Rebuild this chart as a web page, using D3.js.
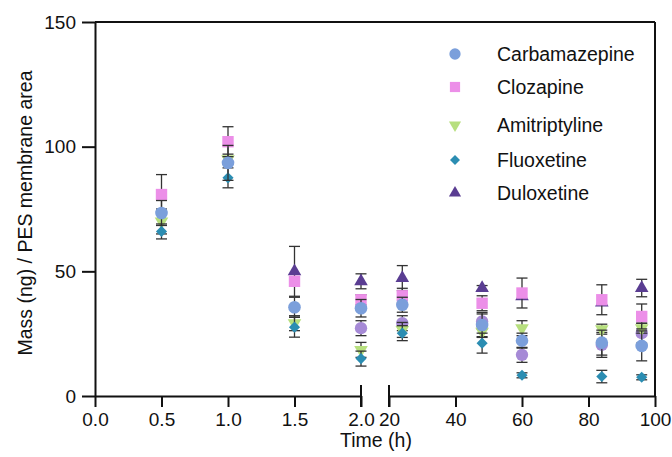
<!DOCTYPE html>
<html>
<head>
<meta charset="utf-8">
<script src="https://cdn.jsdelivr.net/npm/d3@7"></script>
<style>
  body { margin: 0; background: #fff; }
  svg { display: block; font-family: "Liberation Sans", Arial, sans-serif; }
</style>
</head>
<body>
<svg class="displayContext" width="672" height="457"></svg>
<script>
// sampling times (h)
var times = [0.5, 1.0, 1.5, 2.0, 24, 48, 60, 84, 96];

// mean mass (ng) per PES membrane area, null = not shown
var carbamazepine = [73.4, 93.5, 35.6, 35.2, 36.6, 28.5, 22.2, 21.4, 20.1];
var clozapine     = [80.8, 102, 46, 38.6, 40.2, 37.2, 41.3, 38.6, 31.9];
var amitriptyline = [70, 95, 29.2, 18.5, 26.5, 25.8, 27.2, 26.8, 27.2];
var fluoxetine    = [66, 87.5, 27.6, 15, 25.2, 21.2, 8.3, 7.8, 7.5];
var duloxetine    = [null, null, 50, 46, 47.3, 43.3, 40, 37.5, 43.3];
var otherSeries   = [null, null, null, 27.2, 29.2, 29.9, 16.5, 20.5, 25.2];

// standard deviations
var carbamazepineSD = [5, 7, 4, 3.5, 3, 5, 3, 5, 6];
var clozapineSD     = [8, 6, 1.5, 2, 3, 3, 6, 6, 5];
var amitriptylineSD = [5, 2, 3, 3, 3, 2, 3, 2, 2];
var fluoxetineSD    = [3, 4, 4, 3, 3, 4, 1, 2.5, 1];
var duloxetineSD    = [0, 0, 10, 3, 5, 1, 0, 0, 3.5];
var otherSD         = [0, 0, 0, 3, 3, 3, 3, 5, 4];

var leftTicks  = [0, 0.5, 1.0, 1.5, 2.0];
var rightTicks = [20, 40, 60, 80, 100];
var yTicks     = [0, 50, 100, 150];

var svg = d3.select(".displayContext");

var xLeft  = d3.scaleLinear().domain([0, 2]).range([95, 361]);
var xRight = d3.scaleLinear().domain([20, 100]).range([389, 655]);
var yScale = d3.scaleLinear().domain([0, 150]).range([396, 22]);

function xPos(t) { return t <= 2 ? xLeft(t) : xRight(t); }

var series = [
  { name: null,            values: otherSeries,   sd: otherSD,         colour: "#a68ad6", shape: d3.symbolCircle,   size: 120 },
  { name: "Duloxetine",    values: duloxetine,    sd: duloxetineSD,    colour: "#5a3d92", shape: d3.symbolTriangle, size: 80 },
  { name: "Amitriptyline", values: amitriptyline, sd: amitriptylineSD, colour: "#b7df7e", shape: "down",           size: 80 },
  { name: "Fluoxetine",    values: fluoxetine,    sd: fluoxetineSD,    colour: "#2b8db2", shape: "diamond",        size: 62 },
  { name: "Clozapine",     values: clozapine,     sd: clozapineSD,     colour: "#ec8fe8", shape: d3.symbolSquare,   size: 130 },
  { name: "Carbamazepine", values: carbamazepine, sd: carbamazepineSD, colour: "#7b9fdb", shape: d3.symbolCircle,   size: 125 }
];

function symbolPath(s, size) {
  if (s === "down") return d3.symbol(d3.symbolTriangle, size)();
  if (s === "diamond") return d3.symbol(d3.symbolSquare, size)();
  return d3.symbol(s, size)();
}
function symbolRotate(s) {
  if (s === "down") return " rotate(180)";
  if (s === "diamond") return " rotate(45)";
  return "";
}

// error bars + markers, one series at a time
series.forEach(function(s) {
  var pts = times.map(function(t, i) {
    return { t: t, v: s.values[i], sd: s.sd[i] };
  }).filter(function(d) { return d.v !== null; });

  var g = svg.append("g");
  pts.filter(function(d) { return d.sd > 0; }).forEach(function(d) {
    var cx = xPos(d.t);
    var top = yScale(d.v + d.sd), bot = yScale(d.v - d.sd);
    g.append("line").attr("x1", cx).attr("x2", cx).attr("y1", top).attr("y2", bot)
      .attr("stroke", "#333").attr("stroke-width", 1.3);
    [top, bot].forEach(function(yy) {
      g.append("line").attr("x1", cx - 5.5).attr("x2", cx + 5.5).attr("y1", yy).attr("y2", yy)
        .attr("stroke", "#333").attr("stroke-width", 1.3);
    });
  });

  g.selectAll("path.pt").data(pts).enter().append("path")
    .attr("class", "pt")
    .attr("d", symbolPath(s.shape, s.size))
    .attr("transform", function(d) {
      return "translate(" + xPos(d.t) + "," + yScale(d.v) + ")" + symbolRotate(s.shape);
    })
    .attr("fill", s.colour);
});

// axes
var axisLeftSeg = d3.axisBottom(xLeft).tickValues(leftTicks).tickFormat(d3.format(".1f")).tickSize(11).tickSizeOuter(0);
var axisRightSeg = d3.axisBottom(xRight).tickValues(rightTicks).tickFormat(d3.format("d")).tickSize(11).tickSizeOuter(0);
var axisY = d3.axisLeft(yScale).tickValues(yTicks).tickSize(13).tickSizeOuter(0);

function styleAxis(g) {
  g.select(".domain").attr("stroke", "#111").attr("stroke-width", 2);
  g.selectAll(".tick line").attr("stroke", "#111").attr("stroke-width", 2);
  g.selectAll(".tick text").attr("fill", "#111").attr("font-size", 19)
    .attr("font-family", "Liberation Sans, Arial, sans-serif");
}

svg.append("g").attr("transform", "translate(0,396)").call(axisLeftSeg).call(styleAxis)
  .selectAll(".tick text").attr("dy", "0.95em").attr("y", 12);
svg.append("g").attr("transform", "translate(0,396)").call(axisRightSeg).call(styleAxis)
  .selectAll(".tick text").attr("dy", "0.95em").attr("y", 12);
svg.append("g").attr("transform", "translate(95,0)").call(axisY).call(styleAxis)
  .selectAll(".tick text").attr("x", -19);

// break marks
[xLeft(2), xRight(20)].forEach(function(bx) {
  svg.append("line").attr("x1", bx).attr("x2", bx).attr("y1", 385).attr("y2", 407)
    .attr("stroke", "#111").attr("stroke-width", 2);
});

// frame: top and right
svg.append("line").attr("x1", 95).attr("x2", 655).attr("y1", 22).attr("y2", 22)
  .attr("stroke", "#111").attr("stroke-width", 2);
svg.append("line").attr("x1", 655).attr("x2", 655).attr("y1", 22).attr("y2", 396)
  .attr("stroke", "#111").attr("stroke-width", 2);

// titles
svg.append("text").attr("x", 376).attr("y", 447).attr("text-anchor", "middle")
  .attr("font-size", 19.5).attr("fill", "#111").text("Time (h)");
svg.append("text").attr("transform", "translate(32,213) rotate(-90)").attr("text-anchor", "middle")
  .attr("font-size", 19.5).attr("fill", "#111").text("Mass (ng) / PES membrane area");

// legend
var legendItems = ["Carbamazepine", "Clozapine", "Amitriptyline", "Fluoxetine", "Duloxetine"];
var legendRows = [54, 87, 125, 160, 193];
legendItems.forEach(function(name, i) {
  var s = series.filter(function(d) { return d.name === name; })[0];
  svg.append("path")
    .attr("d", symbolPath(s.shape, s.size * 0.8))
    .attr("transform", "translate(455," + legendRows[i] + ")" + symbolRotate(s.shape))
    .attr("fill", s.colour);
  svg.append("text").attr("x", 497).attr("y", legendRows[i]).attr("dy", "0.35em")
    .attr("font-size", 19.5).attr("fill", "#111").text(name);
});
</script>
</body>
</html>
